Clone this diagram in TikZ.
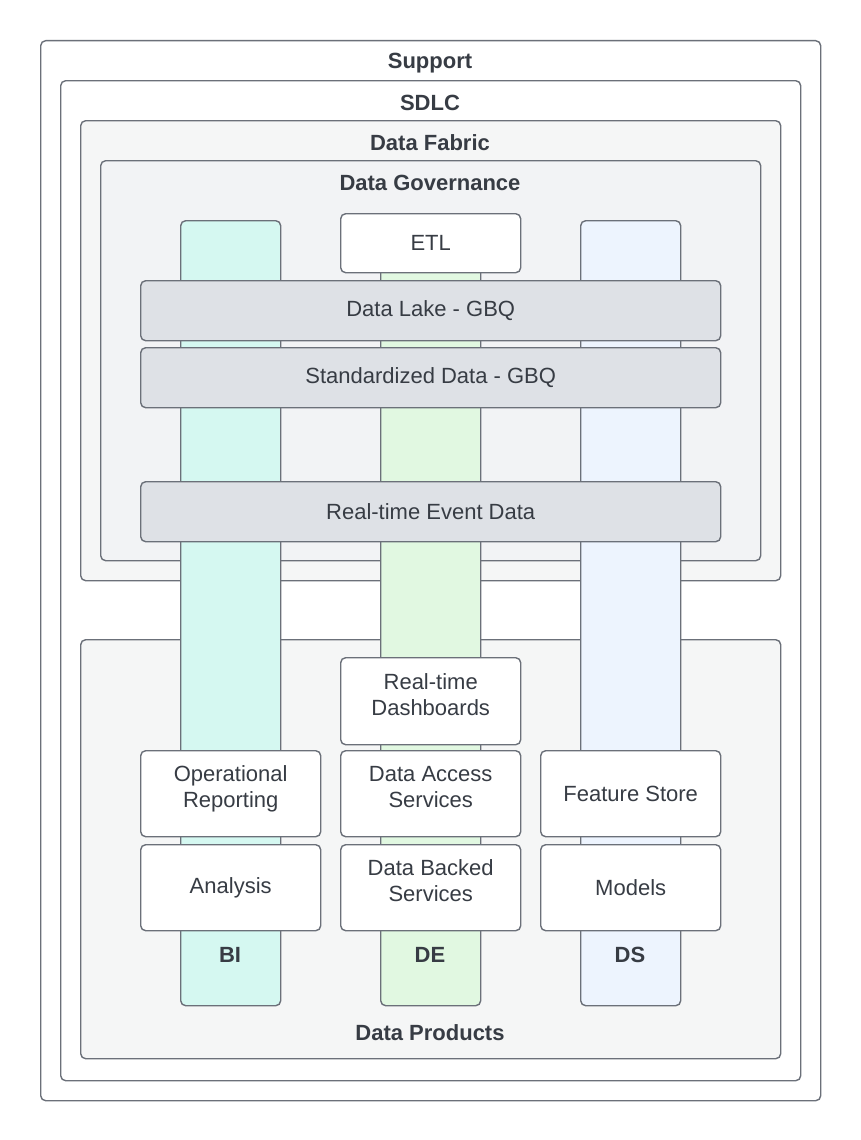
\documentclass[tikz,border=0pt]{standalone}
\usepackage{fontspec}
\setmainfont{Liberation Sans}
\usetikzlibrary{positioning}
\definecolor{edge}{HTML}{6B7079}
\definecolor{ink}{HTML}{373C44}
\definecolor{fabricfill}{HTML}{F5F6F6}
\definecolor{govfill}{HTML}{F2F3F5}
\definecolor{barfill}{HTML}{DEE1E6}
\definecolor{bifill}{HTML}{D5F8F1}
\definecolor{defill}{HTML}{E1F8E1}
\definecolor{dsfill}{HTML}{EDF4FE}

\begin{document}
\begin{tikzpicture}[x=1pt,y=-1pt,
  every node/.style={font=\fontsize{22}{26}\selectfont, text=ink},
  frame/.style={draw=edge, line width=1.4pt, rounded corners=5pt, anchor=north west, inner sep=0pt},
  title/.style={font=\fontsize{22}{26}\selectfont\bfseries},
  lane/.style={frame, minimum width=100pt, minimum height=785pt},
  bar/.style={frame, fill=barfill, minimum width=580pt, minimum height=60pt},
  card/.style={frame, fill=white, minimum width=180pt, minimum height=86pt, align=center},
  pair/.style={card, text depth=14pt}]
\fill[white] (0,0) rectangle (860,1140);

% containers
\node[frame, minimum width=780pt, minimum height=1060pt] (support) at (40,40) {};
\node[title] (support-t) at (430,63) {Support};
\node[frame, minimum width=740pt, minimum height=1000pt] (sdlc) at (60,80) {};
\node[title] (sdlc-t) at (430,103) {SDLC};
\node[frame, fill=fabricfill, minimum width=700pt, minimum height=460pt] (fabric) at (80,120) {};
\node[title] (fabric-t) at (430,143) {Data Fabric};
\node[frame, fill=govfill, minimum width=660pt, minimum height=400pt] (governance) at (100,160) {};
\node[title] (governance-t) at (430,183) {Data Governance};
\node[frame, fill=fabricfill, minimum width=700pt, minimum height=419pt] (products) at (80,639) {};
\node[title] (products-t) at (430,1033) {Data Products};

% lanes
\node[lane, fill=bifill] (bi) at (180,220) {};
\node[lane, fill=defill] (de) at (380,220) {};
\node[lane, fill=dsfill] (ds) at (580,220) {};
\node[title] (bi-t) at (230,955) {BI};
\node[title] (de-t) at (430,955) {DE};
\node[title] (ds-t) at (630,955) {DS};

% storage layers
\node[card, minimum height=59pt] (etl) at (340,213) {ETL};
\node[bar] (lake) at (140,280) {Data Lake - GBQ};
\node[bar] (std) at (140,347) {Standardized Data - GBQ};
\node[bar] (events) at (140,481) {Real-time Event Data};

% products
\node[pair, minimum height=87pt] (dash) at (340,657) {Real-time\\Dashboards};
\node[pair] (opsrep) at (140,750) {Operational\\Reporting};
\node[pair] (access) at (340,750) {Data Access\\Services};
\node[card] (feature) at (540,750) {Feature Store};
\node[card] (analysis) at (140,844) {Analysis};
\node[pair] (backed) at (340,844) {Data Backed\\Services};
\node[card] (models) at (540,844) {Models};
\end{tikzpicture}
\end{document}
